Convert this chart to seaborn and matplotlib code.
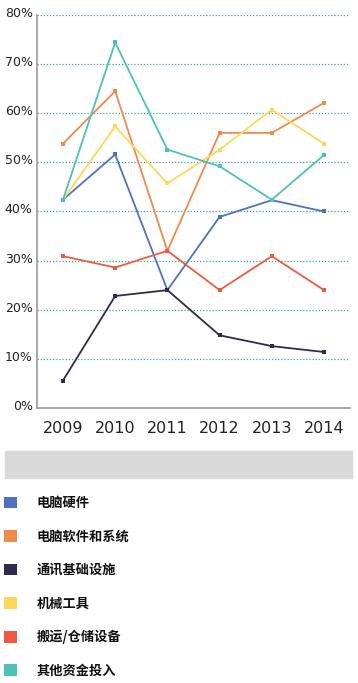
import matplotlib
matplotlib.use('Agg')
import matplotlib.pyplot as plt
import matplotlib.transforms as mtrans
from matplotlib.patches import Patch, Rectangle
import seaborn as sns
import numpy as np
import pandas as pd

# chart data (percent)
years = ['2009', '2010', '2011', '2012', '2013', '2014']
series_names = ['电脑硬件', '电脑软件和系统', '通讯基础设施', '机械工具', '搬运/仓储设备', '其他资金投入']
hardware = [42.4, 51.6, 24.0, 38.9, 42.3, 40.0]
software = [53.8, 64.5, 32.0, 56.0, 56.0, 62.1]
infra = [5.6, 22.8, 24.0, 14.8, 12.6, 11.4]
machinery = [42.4, 57.3, 45.7, 52.6, 60.7, 53.8]
handling = [30.9, 28.6, 32.0, 24.0, 30.9, 24.0]
other = [42.4, 74.4, 52.6, 49.2, 42.4, 51.5]
colors = ['#4f72bf', '#f08a4b', '#2f2a50', '#fdd75b', '#ee5a3f', '#4dc2b6']

values = [hardware, software, infra, machinery, handling, other]
df = pd.DataFrame({
    'year': np.tile(np.arange(len(years)), len(series_names)),
    'value': np.concatenate(values),
    'series': np.repeat(series_names, len(years)),
})

sns.set_theme(style='white')
plt.rcParams['font.family'] = ['Noto Sans CJK SC', 'DejaVu Sans']

fig = plt.figure(figsize=(3.58, 6.83), dpi=100)
ax = fig.add_axes([0.103, 0.4026, 0.875, 0.5755])

# dotted teal grid
for v in range(10, 81, 10):
    ax.axhline(v, color='#3aa6a6', lw=0.9, ls=(0, (1, 1.5)), zorder=0)

sns.lineplot(data=df, x='year', y='value', hue='series', palette=colors,
             hue_order=series_names, marker='s', markersize=3.5,
             markeredgewidth=0, linewidth=1.3, ax=ax, legend=False)

ax.set_xlim(-0.5, 5.5)
ax.set_ylim(0, 80)
ax.set_xlabel('')
ax.set_ylabel('')
ax.set_xticks(range(len(years)))
ax.set_xticklabels(years, fontsize=11.5, family='DejaVu Sans', color='#222222')
ax.set_xticks(np.arange(0.5, 6, 1), minor=True)
ax.set_yticks(range(0, 81, 10))
ax.set_yticklabels([f'{v}%' for v in range(0, 81, 10)], fontsize=9,
                   family='DejaVu Sans', color='#222222')
ax.tick_params(axis='x', which='major', length=0, pad=9)
ax.tick_params(axis='x', which='minor', length=7, direction='in',
               color='#999999', width=1)
ax.tick_params(axis='y', length=3, direction='in', color='#999999', pad=3)
shift = mtrans.ScaledTranslation(0, 3 / 100, fig.dpi_scale_trans)
for lab in ax.get_yticklabels():
    lab.set_transform(lab.get_transform() + shift)

sns.despine(ax=ax, top=True, right=True)
ax.spines['left'].set_color('#999999')
ax.spines['bottom'].set_color('#999999')
ax.spines['left'].set_linewidth(1.2)
ax.spines['bottom'].set_linewidth(1.2)

# gray band
fig.patches.append(Rectangle((5 / 358, 1 - 478 / 683), 347 / 358, 27 / 683,
                             transform=fig.transFigure, color='#d9d9d9', zorder=0))

handles = [Patch(facecolor=c, edgecolor='none', label=n)
           for c, n in zip(colors, series_names)]
leg = fig.legend(handles=handles, loc='upper left',
                 bbox_to_anchor=(0.01, 1 - 496 / 683), frameon=False,
                 handlelength=1.0, handleheight=1.0, handletextpad=1.5,
                 labelspacing=1.48, fontsize=9.5, borderaxespad=0,
                 borderpad=0.0)
for t in leg.get_texts():
    t.set_fontweight('bold')
    t.set_color('#111111')

plt.savefig('out.png', dpi=100)
